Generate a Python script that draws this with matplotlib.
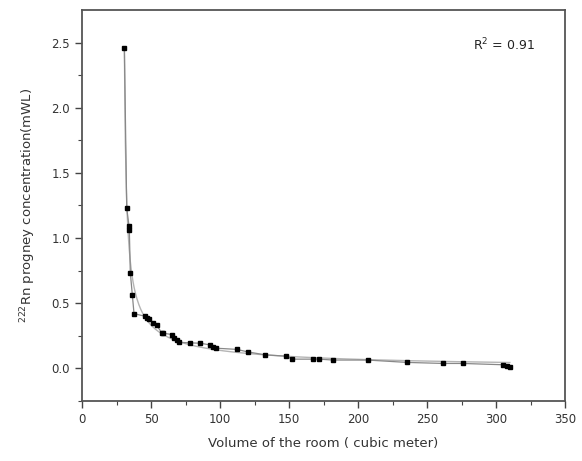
# Rn-222 progeny concentration vs room volume, points + fitted decay curve
import numpy as np
import matplotlib.pyplot as plt

volume = np.array([30.7, 32.4, 34.1, 34.3, 35.0, 36.5, 37.7, 45.7, 47.0, 48.6,
                   51.7, 54.1, 57.7, 59.0, 65.0, 66.7, 68.6, 70.5, 78.0, 85.8,
                   92.8, 95.2, 97.1, 112.0, 120.0, 132.6, 147.8, 152.4, 167.6, 172.0,
                   182.0, 207.0, 235.3, 261.8, 275.9, 304.8, 307.8, 310.0])
conc = np.array([2.46, 1.23, 1.09, 1.06, 0.735, 0.56, 0.42, 0.40, 0.39, 0.38,
                 0.345, 0.33, 0.275, 0.27, 0.26, 0.235, 0.215, 0.20, 0.196, 0.193,
                 0.18, 0.166, 0.155, 0.146, 0.127, 0.104, 0.094, 0.071, 0.071, 0.071,
                 0.064, 0.064, 0.046, 0.038, 0.038, 0.028, 0.018, 0.012])
r2_text = "R$^2$ = 0.91"


def fit_power(x, y):  # y = y0 + a*(x-c)^-b, grid over c and b, least squares for y0, a
    best = None
    for c in np.linspace(20, x.min() - 0.3, 60):
        for b in np.linspace(0.3, 3.0, 55):
            M = np.column_stack([np.ones_like(x), (x - c) ** -b])
            coef, *_ = np.linalg.lstsq(M, y, rcond=None)
            sse = np.sum((M @ coef - y) ** 2)
            if best is None or sse < best[0]:
                best = (sse, c, b, coef)
    return best[1:]


c, b, coef = fit_power(volume, conc)
xf = np.linspace(volume.min(), volume.max(), 400)
yf = coef[0] + coef[1] * (xf - c) ** -b

fig = plt.figure(figsize=(5.82, 4.61), dpi=100)
ax = fig.add_axes([0.1409, 0.1302, 0.8299, 0.8481])

ax.plot(xf, yf, color='#b5b5b5', lw=1.0)
ax.plot(volume, conc, '-s', color='#888888', lw=0.9,
        mfc='black', mec='black', ms=3.5)

ax.text(306, 2.48, r2_text, ha='center', va='center', fontsize=9, color='#222222')

ax.set_xlim(0, 350)
ax.set_ylim(-0.25, 2.75)
ax.set_xticks(np.arange(0, 351, 50))
ax.set_xticks(np.arange(25, 350, 50), minor=True)
ax.set_yticks(np.arange(0, 2.51, 0.5))
ax.set_yticks(np.arange(-0.25, 2.75, 0.25), minor=True)
ax.yaxis.set_major_formatter(plt.FormatStrFormatter('%.1f'))
ax.tick_params(which='major', direction='out', length=5, width=1, colors='#444444',
               labelsize=8.5, labelcolor='#333333')
ax.tick_params(which='minor', direction='out', length=3, width=0.8, colors='#444444')
for s in ax.spines.values():
    s.set_color('#555555')
    s.set_linewidth(1.3)

ax.set_xlabel("Volume of the room ( cubic meter)", fontsize=9.5, color='#333333', labelpad=8)
ax.set_ylabel("$^{222}$Rn progney concentration(mWL)", fontsize=9.5, color='#333333', labelpad=10)

fig.savefig("out.png", dpi=100)
